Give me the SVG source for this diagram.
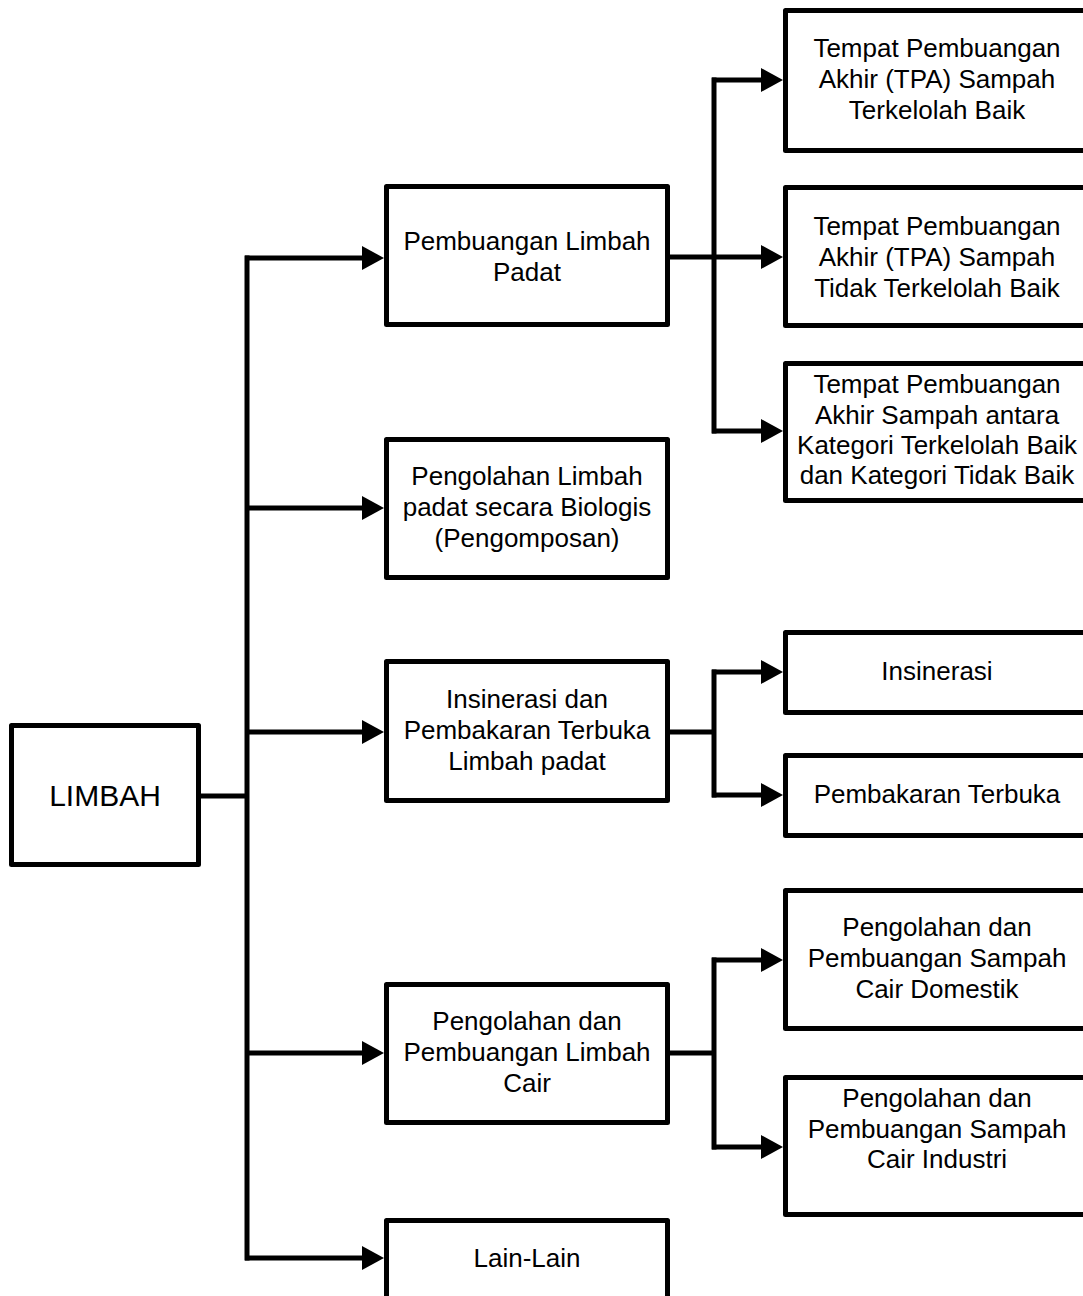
<svg xmlns="http://www.w3.org/2000/svg" width="1083" height="1296" viewBox="0 0 1083 1296">
<style>
.box{fill:#fff;stroke:#000;stroke-width:5;stroke-linejoin:round}
.t{font-family:"Liberation Sans",Arial,sans-serif;font-size:26px;fill:#000;text-anchor:middle}
.big{font-size:30px}
.ln{fill:none;stroke:#000;stroke-width:5}
.tr{fill:none;stroke:#000;stroke-width:5;stroke-linecap:square}
.ar{marker-end:url(#ah)}
</style>
<defs>
<marker id="ah" markerUnits="userSpaceOnUse" markerWidth="22" markerHeight="24" refX="14" refY="12" orient="auto" overflow="visible">
<path d="M0,0 L22,12 L0,24 Z" fill="#000"/>
</marker>
</defs>
<rect width="1083" height="1296" fill="#fff"/>
<g id="connectors">
<path class="ln" d="M201,796 H247"/>
<path class="tr" d="M247,258 V1258"/>
<path class="ln ar" d="M245,258 H376"/>
<path class="ln ar" d="M247,508 H376"/>
<path class="ln ar" d="M247,732 H376"/>
<path class="ln ar" d="M247,1053 H376"/>
<path class="ln ar" d="M245,1258 H376"/>
<path class="ln" d="M670,257 H714"/>
<path class="tr" d="M714,80 V431"/>
<path class="ln ar" d="M712,80 H775"/>
<path class="ln ar" d="M714,257 H775"/>
<path class="ln ar" d="M712,431 H775"/>
<path class="ln" d="M670,732 H714"/>
<path class="tr" d="M714,672 V795"/>
<path class="ln ar" d="M712,672 H775"/>
<path class="ln ar" d="M712,795 H775"/>
<path class="ln" d="M670,1053 H714"/>
<path class="tr" d="M714,960 V1147"/>
<path class="ln ar" d="M712,960 H775"/>
<path class="ln ar" d="M712,1147 H775"/>
</g>
<g id="limbah">
<rect class="box" x="11.5" y="725.5" width="187" height="139"/>
<text class="t big" x="105" y="806">LIMBAH</text>
</g>
<g id="pembuangan-padat">
<rect class="box" x="386.5" y="186.5" width="281" height="138"/>
<text class="t" x="527" y="250">Pembuangan Limbah</text>
<text class="t" x="527" y="281">Padat</text>
</g>
<g id="pengolahan-biologis">
<rect class="box" x="386.5" y="439.5" width="281" height="138"/>
<text class="t" x="527" y="485">Pengolahan Limbah</text>
<text class="t" x="527" y="516">padat secara Biologis</text>
<text class="t" x="527" y="547">(Pengomposan)</text>
</g>
<g id="insinerasi-pembakaran">
<rect class="box" x="386.5" y="661.5" width="281" height="139"/>
<text class="t" x="527" y="708">Insinerasi dan</text>
<text class="t" x="527" y="739">Pembakaran Terbuka</text>
<text class="t" x="527" y="770">Limbah padat</text>
</g>
<g id="limbah-cair">
<rect class="box" x="386.5" y="984.5" width="281" height="138"/>
<text class="t" x="527" y="1030">Pengolahan dan</text>
<text class="t" x="527" y="1061">Pembuangan Limbah</text>
<text class="t" x="527" y="1092">Cair</text>
</g>
<g id="lain-lain">
<rect class="box" x="386.5" y="1220.5" width="281" height="90"/>
<text class="t" x="527" y="1267">Lain-Lain</text>
</g>
<g id="tpa-baik">
<rect class="box" x="785.5" y="10.5" width="310" height="140"/>
<text class="t" x="937" y="57">Tempat Pembuangan</text>
<text class="t" x="937" y="88">Akhir (TPA) Sampah</text>
<text class="t" x="937" y="119">Terkelolah Baik</text>
</g>
<g id="tpa-tidak-baik">
<rect class="box" x="785.5" y="187.5" width="310" height="138"/>
<text class="t" x="937" y="235">Tempat Pembuangan</text>
<text class="t" x="937" y="266">Akhir (TPA) Sampah</text>
<text class="t" x="937" y="297">Tidak Terkelolah Baik</text>
</g>
<g id="tpa-antara">
<rect class="box" x="785.5" y="363.5" width="310" height="137"/>
<text class="t" x="937" y="393">Tempat Pembuangan</text>
<text class="t" x="937" y="424">Akhir Sampah antara</text>
<text class="t" x="937" y="454">Kategori Terkelolah Baik</text>
<text class="t" x="937" y="484">dan Kategori Tidak Baik</text>
</g>
<g id="insinerasi">
<rect class="box" x="785.5" y="632.5" width="310" height="80"/>
<text class="t" x="937" y="680">Insinerasi</text>
</g>
<g id="pembakaran-terbuka">
<rect class="box" x="785.5" y="755.5" width="310" height="80"/>
<text class="t" x="937" y="803">Pembakaran Terbuka</text>
</g>
<g id="cair-domestik">
<rect class="box" x="785.5" y="890.5" width="310" height="138"/>
<text class="t" x="937" y="936">Pengolahan dan</text>
<text class="t" x="937" y="967">Pembuangan Sampah</text>
<text class="t" x="937" y="998">Cair Domestik</text>
</g>
<g id="cair-industri">
<rect class="box" x="785.5" y="1077.5" width="310" height="137"/>
<text class="t" x="937" y="1107">Pengolahan dan</text>
<text class="t" x="937" y="1138">Pembuangan Sampah</text>
<text class="t" x="937" y="1168">Cair Industri</text>
</g>
</svg>
